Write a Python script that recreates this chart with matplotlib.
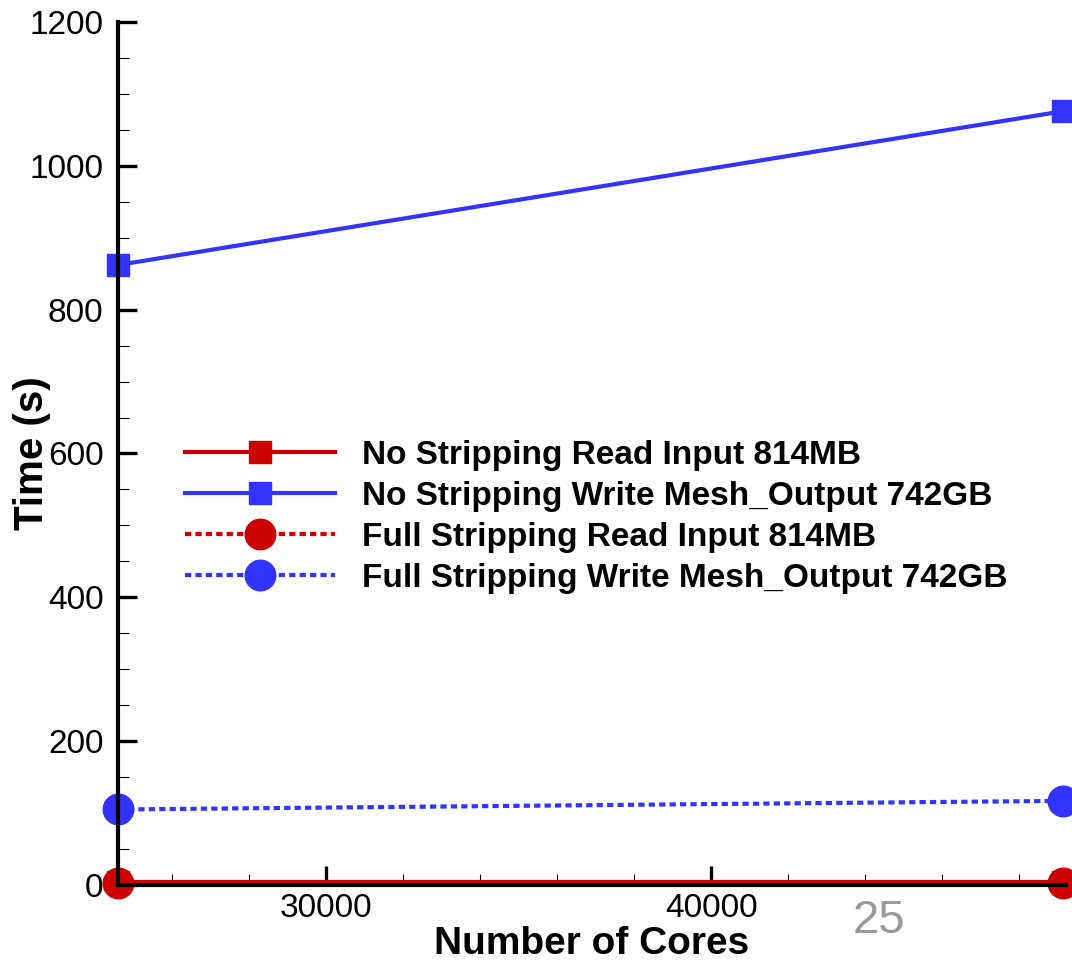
import matplotlib.pyplot as plt
from matplotlib.ticker import MultipleLocator

plt.rcParams["font.family"] = ["Liberation Sans", "DejaVu Sans"]

# data
cores = [24576, 49152]
no_strip_read = [4, 4]
no_strip_write = [862, 1076]
full_strip_read = [3, 3]
full_strip_write = [105, 117]

RED = "#cc0000"
BLUE = "#3333ff"
DOT = (0, (1.5, 1.0))

W, H = 1072, 961
fig = plt.figure(figsize=(W / 100, H / 100), dpi=100)
ax = fig.add_axes([117.5 / W, 1 - 885 / H, (1066 - 117.5) / W, (885 - 22) / H])

ax.plot(cores, no_strip_read, color=RED, lw=3, marker="s", ms=16.5,
        clip_on=False, label="No Stripping Read Input 814MB")
ax.plot(cores, no_strip_write, color=BLUE, lw=3, marker="s", ms=16.5,
        clip_on=False, label="No Stripping Write Mesh_Output 742GB")
ax.plot(cores, full_strip_read, color=RED, lw=3, ls=DOT, marker="o", ms=22,
        clip_on=False, label="Full Stripping Read Input 814MB")
ax.plot(cores, full_strip_write, color=BLUE, lw=3, ls=DOT, marker="o", ms=22,
        clip_on=False, label="Full Stripping Write Mesh_Output 742GB")

ax.set_xlim(24576, 49220)
ax.set_ylim(0, 1200)
for s in ("top", "right"):
    ax.spines[s].set_visible(False)
for s in ("left", "bottom"):
    ax.spines[s].set_linewidth(3)

ax.set_xticks([30000, 40000])
ax.xaxis.set_minor_locator(MultipleLocator(2000))
ax.yaxis.set_major_locator(MultipleLocator(200))
ax.yaxis.set_minor_locator(MultipleLocator(50))
ax.tick_params(which="major", direction="in", length=14, width=2.4,
               labelsize=24, pad=6)
ax.tick_params(which="minor", direction="in", length=8, width=0.8)
ax.tick_params(axis="y", which="major", pad=10)

# axis titles placed in figure pixels
fig.text(592 / W, 1 - 944 / H, "Number of Cores", fontsize=28,
         fontweight="bold", ha="center", va="center")
fig.text(32 / W, 1 - 453 / H, "Time (s)", fontsize=29, fontweight="bold",
         rotation=90, ha="center", va="center")

ax.legend(loc="upper left", bbox_to_anchor=(155 / W, 1 - 410 / H),
          bbox_transform=fig.transFigure, frameon=False,
          prop={"weight": "bold", "size": 24}, handlelength=4.5,
          handletextpad=0.8, labelspacing=0.3)

fig.text(879 / W, 1 - 921 / H, "25", fontsize=34, color="#999999",
         ha="center", va="center")

fig.savefig("out.png", dpi=100)
